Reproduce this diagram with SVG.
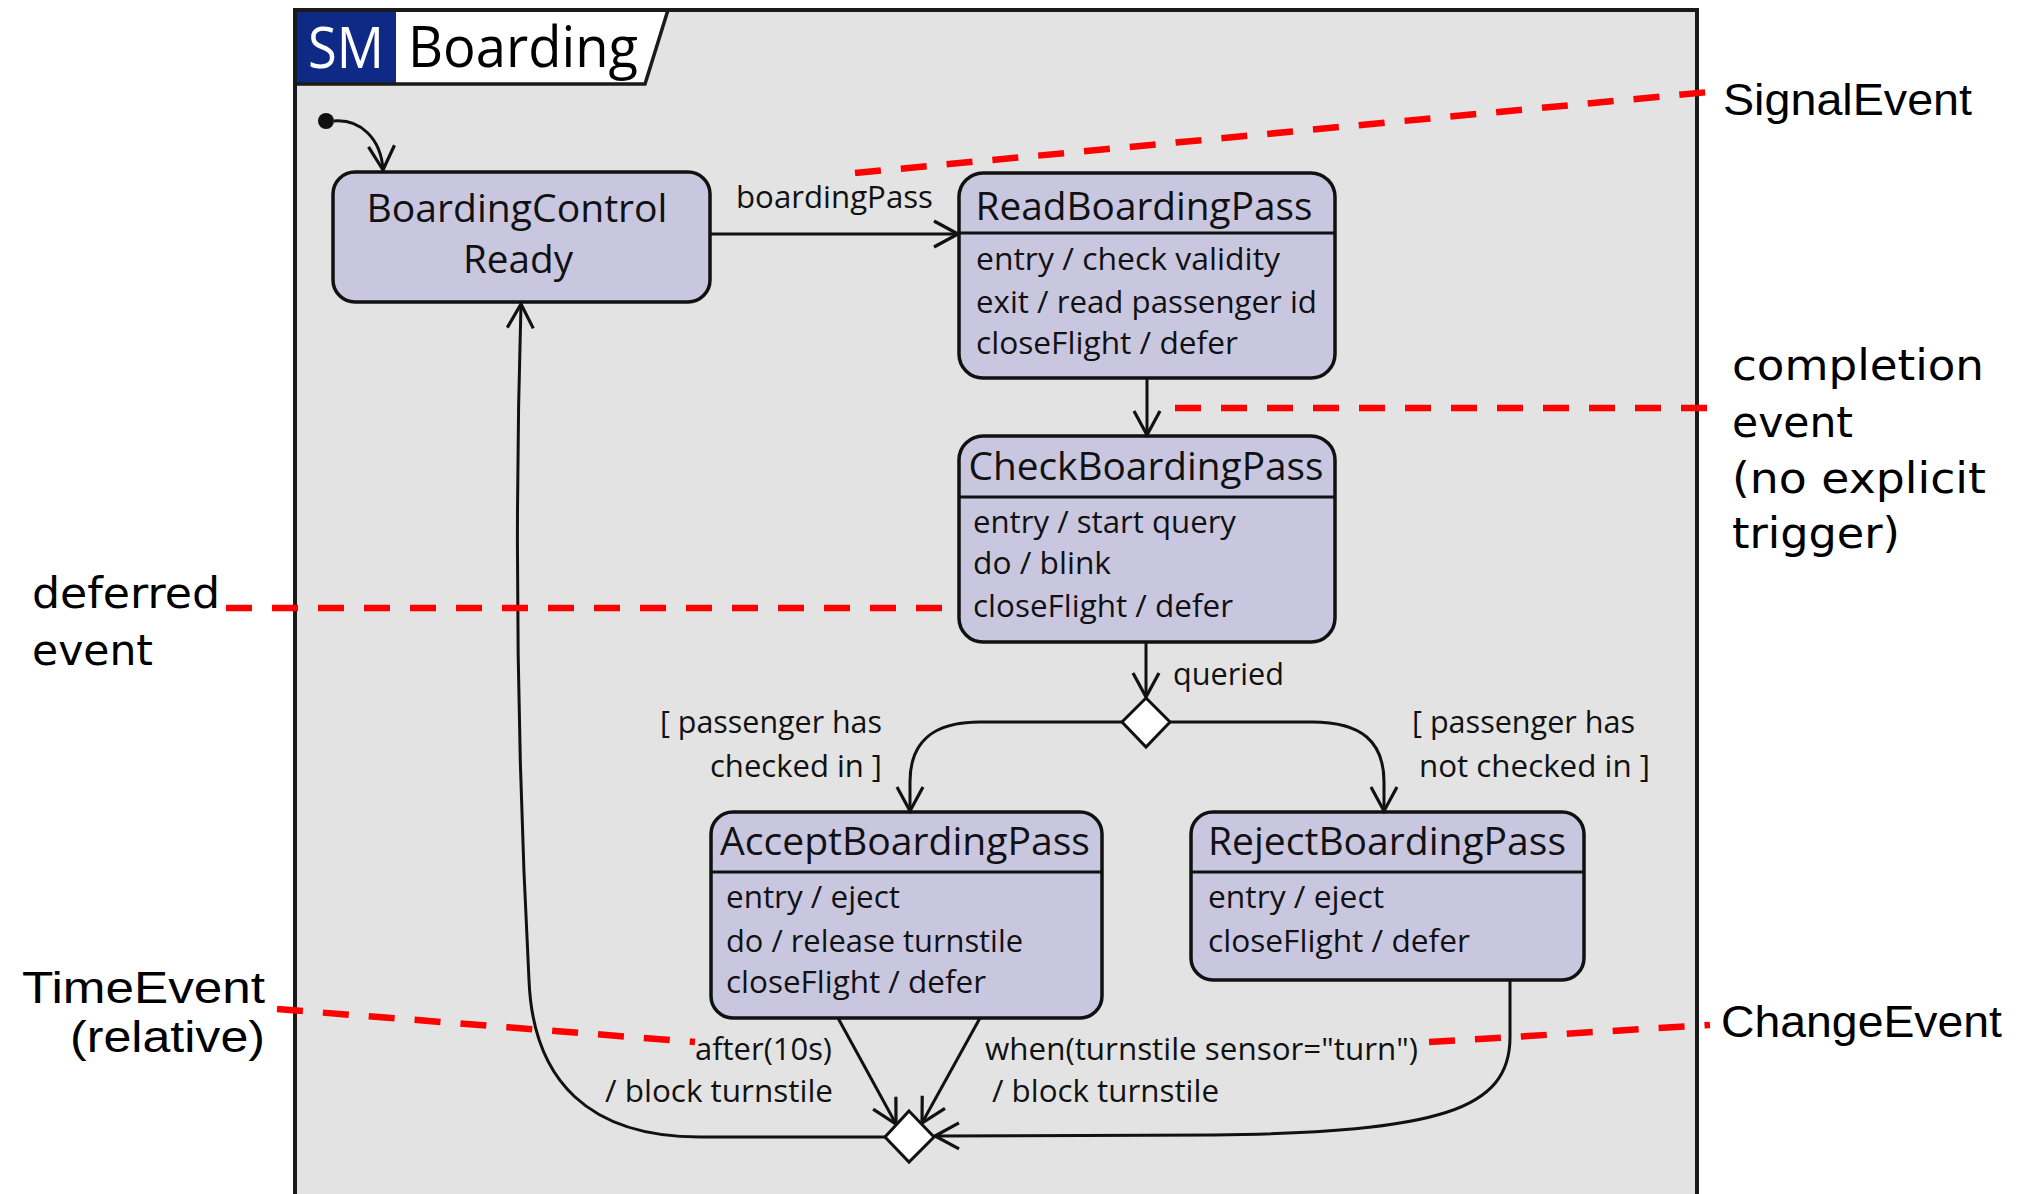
<svg xmlns="http://www.w3.org/2000/svg" width="2029" height="1194" viewBox="0 0 2029 1194">
<defs>
<style>
.st{fill:#c9c7e0;stroke:#111;stroke-width:3.5}
.dv{stroke:#111;stroke-width:3}
.ti{font-family:"Open Sans","Noto Sans",sans-serif;font-size:38px;fill:#111;text-anchor:middle}
.bd{font-family:"Open Sans","Noto Sans",sans-serif;font-size:31px;fill:#111}
.lb{font-family:"Open Sans","Noto Sans",sans-serif;font-size:31px;fill:#111}
.cn{fill:none;stroke:#111;stroke-width:3}
.rd{fill:none;stroke:#ff0000;stroke-width:6.5;stroke-dasharray:26 20}
.an{font-family:"Liberation Sans",Arial,sans-serif;font-size:44px;fill:#000}
.ah{font-family:"DejaVu Sans","Open Sans",sans-serif;font-size:43px;fill:#000}
.dm{fill:#fff;stroke:#111;stroke-width:3}
</style>
<marker id="arr" viewBox="0 0 30 30" refX="27" refY="15" markerWidth="30" markerHeight="30" markerUnits="userSpaceOnUse" orient="auto">
<path d="M3,2 L27,15 L3,28" fill="none" stroke="#111" stroke-width="3.2"/>
</marker>
</defs>
<rect width="2029" height="1194" fill="#fff"/>
<g id="frame">
<rect x="295" y="10" width="1402" height="1200" fill="#e3e3e3" stroke="#1a1a1a" stroke-width="4"/>
<rect x="297" y="12" width="99" height="72" fill="#0f2a86"/>
<polygon points="396,12 668,12 645,84 396,84" fill="#fff"/>
<polyline points="295,84 645,84 668,10" fill="none" stroke="#1a1a1a" stroke-width="3.5"/>
<text x="308" y="68" font-family="'Open Sans','Noto Sans',sans-serif" font-size="57" fill="#fff" textLength="76" lengthAdjust="spacingAndGlyphs">SM</text>
<text x="408" y="67" font-family="'Open Sans','Noto Sans',sans-serif" font-size="57" fill="#000" textLength="230" lengthAdjust="spacingAndGlyphs">Boarding</text>
</g>
<g id="initial">
<circle cx="326" cy="121" r="8" fill="#111"/>
</g>
<g id="BoardingControlReady">
<rect class="st" x="333" y="172" width="377" height="130" rx="22"/>
<text class="ti" x="517" y="222" font-size="39" textLength="301" lengthAdjust="spacingAndGlyphs">BoardingControl</text>
<text class="ti" x="518" y="273" font-size="39" textLength="110" lengthAdjust="spacingAndGlyphs">Ready</text>
</g>
<g id="ReadBoardingPass">
<rect class="st" x="959" y="173" width="376" height="205" rx="24"/>
<line class="dv" x1="959" y1="233" x2="1335" y2="233"/>
<text class="ti" x="1144" y="220" textLength="337" lengthAdjust="spacingAndGlyphs">ReadBoardingPass</text>
<text class="bd" x="976" y="270" textLength="304" lengthAdjust="spacingAndGlyphs">entry / check validity</text>
<text class="bd" x="976" y="313" textLength="341" lengthAdjust="spacingAndGlyphs">exit / read passenger id</text>
<text class="bd" x="976" y="354" textLength="262" lengthAdjust="spacingAndGlyphs">closeFlight / defer</text>
</g>
<g id="CheckBoardingPass">
<rect class="st" x="959" y="436" width="376" height="206" rx="24"/>
<line class="dv" x1="959" y1="497" x2="1335" y2="497"/>
<text class="ti" x="1146" y="480" textLength="355" lengthAdjust="spacingAndGlyphs">CheckBoardingPass</text>
<text class="bd" x="973" y="533" textLength="263" lengthAdjust="spacingAndGlyphs">entry / start query</text>
<text class="bd" x="973" y="574" textLength="138" lengthAdjust="spacingAndGlyphs">do / blink</text>
<text class="bd" x="973" y="617" textLength="260" lengthAdjust="spacingAndGlyphs">closeFlight / defer</text>
</g>
<g id="choice1">
<polygon class="dm" points="1146,698 1170,722 1146,747 1122,722"/>
</g>
<g id="AcceptBoardingPass">
<rect class="st" x="711" y="812" width="391" height="206" rx="22"/>
<line class="dv" x1="711" y1="872" x2="1102" y2="872"/>
<text class="ti" x="905" y="855" textLength="370" lengthAdjust="spacingAndGlyphs">AcceptBoardingPass</text>
<text class="bd" x="726" y="908" textLength="174" lengthAdjust="spacingAndGlyphs">entry / eject</text>
<text class="bd" x="726" y="952" textLength="297" lengthAdjust="spacingAndGlyphs">do / release turnstile</text>
<text class="bd" x="726" y="993" textLength="260" lengthAdjust="spacingAndGlyphs">closeFlight / defer</text>
</g>
<g id="RejectBoardingPass">
<rect class="st" x="1191" y="812" width="393" height="168" rx="22"/>
<line class="dv" x1="1191" y1="872" x2="1584" y2="872"/>
<text class="ti" x="1387" y="855" textLength="358" lengthAdjust="spacingAndGlyphs">RejectBoardingPass</text>
<text class="bd" x="1208" y="908" textLength="176" lengthAdjust="spacingAndGlyphs">entry / eject</text>
<text class="bd" x="1208" y="952" textLength="262" lengthAdjust="spacingAndGlyphs">closeFlight / defer</text>
</g>
<g id="connectors">
<path class="cn" d="M334,121 C360,119 381,138 383,170" marker-end="url(#arr)"/>
<path class="cn" d="M710,234 L958,234" marker-end="url(#arr)"/>
<path class="cn" d="M1147,378 L1147,435" marker-end="url(#arr)"/>
<path class="cn" d="M1146,642 L1146,697" marker-end="url(#arr)"/>
<path class="cn" d="M1122,722 L980,722 C932,722 910,742 910,782 L910,811" marker-end="url(#arr)"/>
<path class="cn" d="M1170,722 L1312,722 C1362,722 1384,742 1384,782 L1384,811" marker-end="url(#arr)"/>
<path class="cn" d="M838,1018 L896,1124" marker-end="url(#arr)"/>
<path class="cn" d="M980,1018 L922,1123" marker-end="url(#arr)"/>
<path class="cn" d="M1510,980 L1510,1037 C1510,1110 1440,1132 1213,1135 L935,1136" marker-end="url(#arr)"/>
<path class="cn" d="M885,1137 L700,1137 C590,1137 533,1082 529,980 Q511,640 521,304" marker-end="url(#arr)"/>
<text class="lb" x="736" y="208" textLength="197" lengthAdjust="spacingAndGlyphs">boardingPass</text>
<text class="lb" x="1173" y="685" textLength="111" lengthAdjust="spacingAndGlyphs">queried</text>
<text class="lb" x="660" y="733" textLength="222" lengthAdjust="spacingAndGlyphs">[ passenger has</text>
<text class="lb" x="710" y="777" textLength="172" lengthAdjust="spacingAndGlyphs">checked in ]</text>
<text class="lb" x="1412" y="733" textLength="223" lengthAdjust="spacingAndGlyphs">[ passenger has</text>
<text class="lb" x="1419" y="777" textLength="231" lengthAdjust="spacingAndGlyphs">not checked in ]</text>
<text class="lb" x="695" y="1060" textLength="137" lengthAdjust="spacingAndGlyphs">after(10s)</text>
<text class="lb" x="605" y="1102" textLength="228" lengthAdjust="spacingAndGlyphs">/ block turnstile</text>
<text class="lb" x="985" y="1060" textLength="433" lengthAdjust="spacingAndGlyphs">when(turnstile sensor="turn")</text>
<text class="lb" x="992" y="1102" textLength="227" lengthAdjust="spacingAndGlyphs">/ block turnstile</text>
</g>
<g id="choice2">
<polygon class="dm" points="909,1111 934,1137 909,1162 885,1137"/>
</g>
<g id="annotations">
<path class="rd" d="M855,173 L1709,92"/>
<path class="rd" d="M1175,408 L1709,408"/>
<path class="rd" d="M226,608 L950,608"/>
<path class="rd" d="M277,1009 L695,1042"/>
<path class="rd" d="M1429,1042 L1710,1025"/>
<text class="an" x="1723" y="115" textLength="249" lengthAdjust="spacingAndGlyphs">SignalEvent</text>
<text class="ah" x="1732" y="380" textLength="252" lengthAdjust="spacingAndGlyphs">completion</text>
<text class="ah" x="1732" y="437" textLength="121" lengthAdjust="spacingAndGlyphs">event</text>
<text class="ah" x="1732" y="493" textLength="254" lengthAdjust="spacingAndGlyphs">(no explicit</text>
<text class="ah" x="1732" y="548" textLength="168" lengthAdjust="spacingAndGlyphs">trigger)</text>
<text class="ah" x="32" y="608" textLength="188" lengthAdjust="spacingAndGlyphs">deferred</text>
<text class="ah" x="32" y="665" textLength="121" lengthAdjust="spacingAndGlyphs">event</text>
<text class="an" x="22" y="1003" textLength="243" lengthAdjust="spacingAndGlyphs">TimeEvent</text>
<text class="an" x="70" y="1052" textLength="195" lengthAdjust="spacingAndGlyphs">(relative)</text>
<text class="an" x="1721" y="1037" textLength="281" lengthAdjust="spacingAndGlyphs">ChangeEvent</text>
</g>
</svg>
